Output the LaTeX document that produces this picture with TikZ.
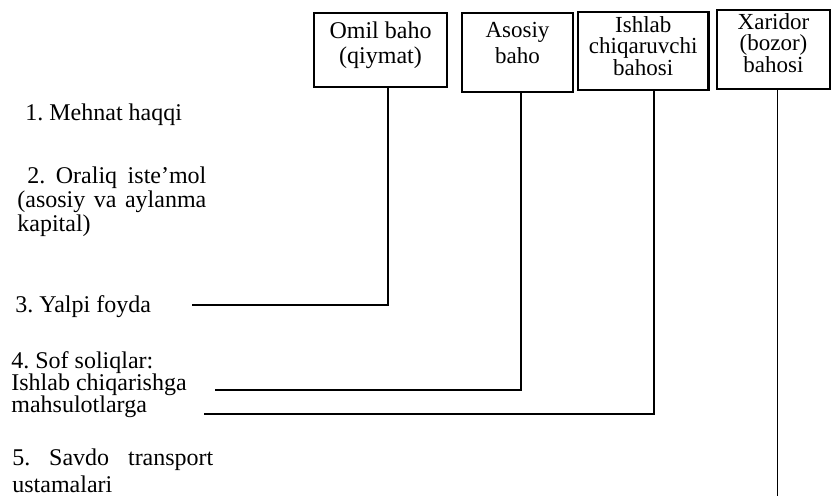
\documentclass[tikz,border=0pt]{standalone}
\usepackage{fontspec}
\setmainfont{Liberation Serif}
\begin{document}
\frenchspacing
\begin{tikzpicture}[x=0.5pt,y=-0.5pt,
  box/.style={draw, line width=1.2pt, inner sep=0pt, align=center},
  lbl/.style={inner sep=0pt, font=\fontsize{12}{11}\selectfont},
  conn/.style={line width=0.8pt}]
\useasboundingbox (0,0) rectangle (831,498);
% boxes
\node[box, minimum width=66.5pt, minimum height=37pt, font=\fontsize{12}{12.5}\selectfont] (b1) at (380.5,50) {Omil baho\\(qiymat)\rule[-7.35pt]{0pt}{7.35pt}};
\node[box, minimum width=55.5pt, minimum height=39.5pt, font=\fontsize{11.5}{13}\selectfont] (b2) at (517.5,52.5) {Asosiy\\baho\rule[-10.1pt]{0pt}{10.1pt}};
\node[box, minimum width=65.25pt, minimum height=39pt, font=\fontsize{11.5}{10.75}\selectfont] (b3) at (643.25,51) {Ishlab\\chiqaruvchi\\bahosi\rule[-5.35pt]{0pt}{5.35pt}};
\node[box, minimum width=56.5pt, minimum height=39.5pt, font=\fontsize{11.5}{10.75}\selectfont] (b4) at (773.5,49.5) {Xaridor\\(bozor)\\bahosi\rule[-6.85pt]{0pt}{6.85pt}};
% labels
\node[lbl, anchor=base west] (l1) at (25,120) {1. Mehnat haqqi};
\node[lbl, anchor=base west, text width=94.5pt, align=justify, font=\fontsize{12}{12.25}\selectfont] (l2) at (17,183) {\hspace*{5pt}2. Oraliq iste’mol\linebreak (asosiy va aylanma\linebreak kapital)};
\node[lbl, anchor=base west] (l3) at (15,312) {3. Yalpi foyda};
\node[lbl, anchor=base west, align=left] (l4) at (11,412) {4. Sof soliqlar:\\Ishlab chiqarishga\\mahsulotlarga};
\node[lbl, anchor=base west, text width=100.5pt, align=justify, font=\fontsize{12}{13.5}\selectfont] (l5) at (12,465) {5. Savdo transport\linebreak ustamalari};
% connectors
\coordinate (s3) at (192,305);
\coordinate (s4) at (215,390);
\coordinate (s5) at (204,414);
\coordinate (s6) at (777.5,496);
\draw[conn] (s3) -| ([xshift=3.75pt]b1.south);
\draw[conn] (s4) -| ([xshift=1.75pt]b2.south);
\draw[conn] (s5) -| ([xshift=5.5pt]b3.south);
\draw[conn] ([xshift=2pt]b4.south) -- (s6);
\end{tikzpicture}
\end{document}
